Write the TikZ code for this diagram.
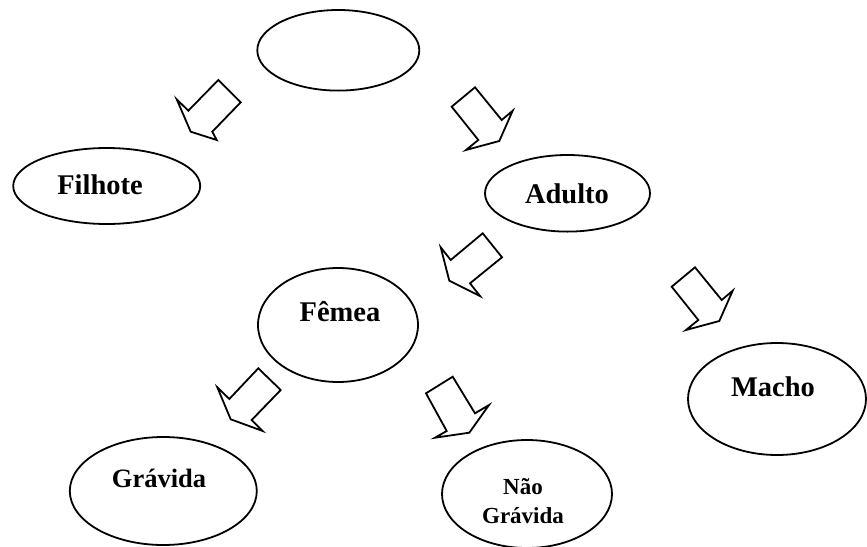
\documentclass[tikz,border=0pt]{standalone}
\usepackage{fontspec}
\setmainfont{Liberation Serif}
\usetikzlibrary{shapes.geometric}
\tikzstyle{class}=[ellipse, draw, inner sep=0pt]
\tikzstyle{big}=[font=\fontsize{28.5}{30}\selectfont\bfseries]
\tikzstyle{small}=[font=\fontsize{23}{29}\selectfont\bfseries, align=center]
\tikzstyle{block}=[draw, line join=miter]

\begin{document}
\begin{tikzpicture}[x=1pt, y=-1pt, line width=1.8pt]
\useasboundingbox (0,0) rectangle (867,546);
% Classes
    \node[class, minimum width=162pt, minimum height=80.6pt] (root) at (338.3,50.3) {};
    \node[class, minimum width=187pt, minimum height=76pt] (filhote) at (106.7,186) {};
    \node[class, minimum width=165pt, minimum height=76.6pt] (adulto) at (567.5,193.3) {};
    \node[class, minimum width=160pt, minimum height=114pt] (femea) at (338,325) {};
    \node[class, minimum width=178pt, minimum height=112pt] (macho) at (777,399) {};
    \node[class, minimum width=187pt, minimum height=108pt] (gravida) at (163.3,491) {};
    \node[class, minimum width=170pt, minimum height=108pt] (naogravida) at (527,494) {};
% Labels
    \node[big] (filhote-txt) at (100,185) {Filhote};
    \node[big] (adulto-txt) at (567,193.3) {Adulto};
    \node[big] (femea-txt) at (340,312) {Fêmea};
    \node[big] (macho-txt) at (773,387) {Macho};
    \node[font=\fontsize{26.5}{30}\selectfont\bfseries] (gravida-txt) at (159,478) {Grávida};
    \node[small] (naogravida-txt) at (523,501) {Não\\Grávida};
% Arrows
    \draw[block] (218.3,80) -- (240.7,102.3) -- (212.3,131.7) -- (216.7,140)
        -- (190.7,131.7) -- (176.7,99.3) -- (188.3,110.7) -- cycle;
    \draw[block] (475,87.3) -- (501.7,120) -- (512.7,110.7) -- (499.3,141)
        -- (466,150) -- (478.3,140) -- (451.7,106.7) -- cycle;
    \draw[block] (482.7,233.3) -- (502,257.3) -- (470,283.3) -- (480,296)
        -- (449.3,280.7) -- (440.7,247.3) -- (450.7,260) -- cycle;
    \draw[block] (695,267.3) -- (721.7,300) -- (732.7,290.7) -- (719.3,321)
        -- (686,330) -- (698.3,320) -- (671.7,286.7) -- cycle;
    \draw[block] (258.3,368.3) -- (280.7,390) -- (251.7,420) -- (262.7,431)
        -- (230.7,419.3) -- (217.3,387.3) -- (229.3,399) -- cycle;
    \draw[block] (452.7,376.7) -- (475,413.3) -- (489,405) -- (469.3,432.7)
        -- (435,437.7) -- (446.7,431) -- (426,393.3) -- cycle;
\end{tikzpicture}
\end{document}
